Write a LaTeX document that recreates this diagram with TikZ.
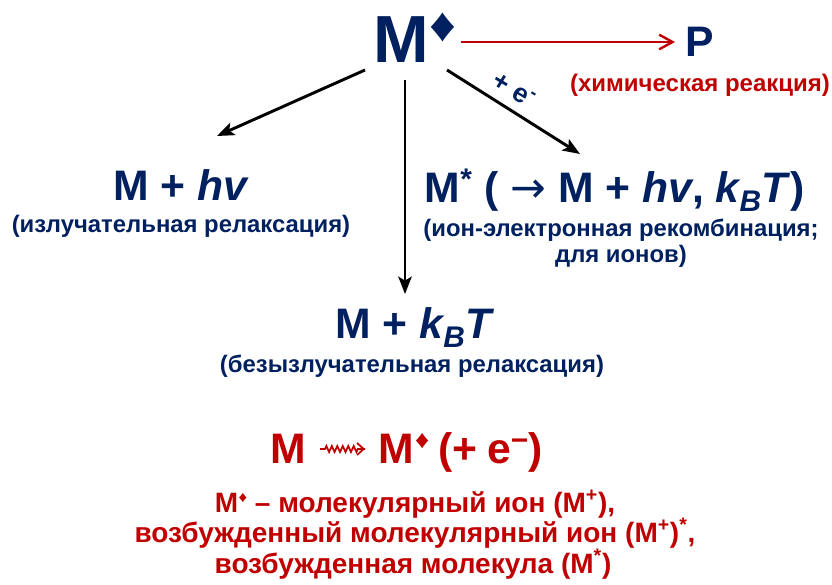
\documentclass[tikz,border=0pt]{standalone}
\usepackage{fontspec}
\setmainfont{Liberation Sans}
\newfontfamily\dejavu{DejaVu Sans}
\usetikzlibrary{arrows.meta,decorations.pathmorphing,calc}
\definecolor{navy}{HTML}{002060}
\definecolor{dred}{HTML}{C00000}
\newcommand{\fsz}[1]{\fontsize{#1}{#1}\selectfont}
\newcommand{\dtop}{\kern1pt\raisebox{15.75pt}{\scalebox{1.1}[1]{\fsz{36}♦}}}
\newcommand{\dmid}{\kern0.5pt\raisebox{11.25pt}{\scalebox{1.1}[1]{\fsz{19}♦}}}
\newcommand{\dsml}{\kern0.3pt\raisebox{7.5pt}{\scalebox{1.1}[1]{\fsz{11.5}♦}}}
\begin{document}
\begin{tikzpicture}[x=0.75pt,y=-0.75pt,
  big/.style={anchor=base,inner sep=0pt,font=\fsz{32}\bfseries,text=navy},
  sub/.style={anchor=base,inner sep=0pt,font=\fsz{17.9}\bfseries,text=navy},
  red/.style={anchor=base,inner sep=0pt,font=\fsz{21}\bfseries,text=dred},
  arr/.style={line width=2.2pt,-{Stealth[length=13pt,width=10pt,inset=3pt]}},
  rarr/.style={line width=1.8pt,draw=dred,-{Straight Barb[length=10pt,width=11pt,line width=1.8pt]}}]
\useasboundingbox (0,0) rectangle (832,585);

\node[big] (mtop) at (415,63) {\fsz{50}M\dtop};
\node[big] (p) at (700,57) {P};
\node[red, font=\fsz{18}\bfseries] (pchem) at (700,92) {(химическая реакция)};

\node[big] (mhv) at (181,200) {M + \textit{hv}};
\node[sub] (mhvs) at (181,232) {(излучательная релаксация)};

\node[big] (mstar) at (615,202) {M\textsuperscript{*} ( {\dejavu\mdseries →} M + \textit{hv}, \textit{k\textsubscript{B}T})};
\node[sub] (mstars1) at (621,236) {(ион-электронная рекомбинация;};
\node[sub] (mstars2) at (621,262) {для ионов)};

\node[big] (mkt) at (415,338) {M + \textit{k\textsubscript{B}T}};
\node[sub] (mkts) at (412,372) {(безызлучательная релаксация)};

\node[anchor=center,inner sep=0pt,font=\fsz{20}\bfseries,text=navy,rotate=-31] (elab) at (514,90) {+ e\textsuperscript{-}};

\draw[arr] ([shift={(-50,7)}]mtop.base) -- ([shift={(36,-64)}]mhv.base);
\draw[arr] ([shift={(-10,17)}]mtop.base) -- ([shift={(-10,-44)}]mkt.base);
\draw[arr] ([shift={(32,7)}]mtop.base) -- ([shift={(-35,-48)}]mstar.base);
\draw[rarr] ([shift={(46,-21)}]mtop.base) -- ([shift={(-25,-15)}]p.base);

\node[big,text=dred] (bm) at (288,463) {M};
\node[big,text=dred] (bmd) at (461,463) {M\dmid\hspace{0.22em}(+\hspace{0.22em}e\textsuperscript{−})};
\draw[dred,line width=1.3pt,decorate,decoration={zigzag,segment length=4.1pt,amplitude=2.25pt,pre length=3.75pt,post length=5.25pt}]
  ([shift={(32,-14)}]bm.base) -- ([shift={(-96,-14)}]bmd.base);
\draw[dred,line width=1.3pt,-{Straight Barb[length=5pt,width=9pt,line width=1.3pt]}]
  ([shift={(-103.5,-14)}]bmd.base) -- ([shift={(-96,-14)}]bmd.base);

\node[red] (l1) at (415,512) {M\dsml\ – молекулярный ион (M\textsuperscript{+}),};
\node[red] (l2) at (415,542) {возбужденный молекулярный ион (M\textsuperscript{+})\textsuperscript{*},};
\node[red] (l3) at (413,573) {возбужденная молекула (M\textsuperscript{*})};
\end{tikzpicture}
\end{document}
